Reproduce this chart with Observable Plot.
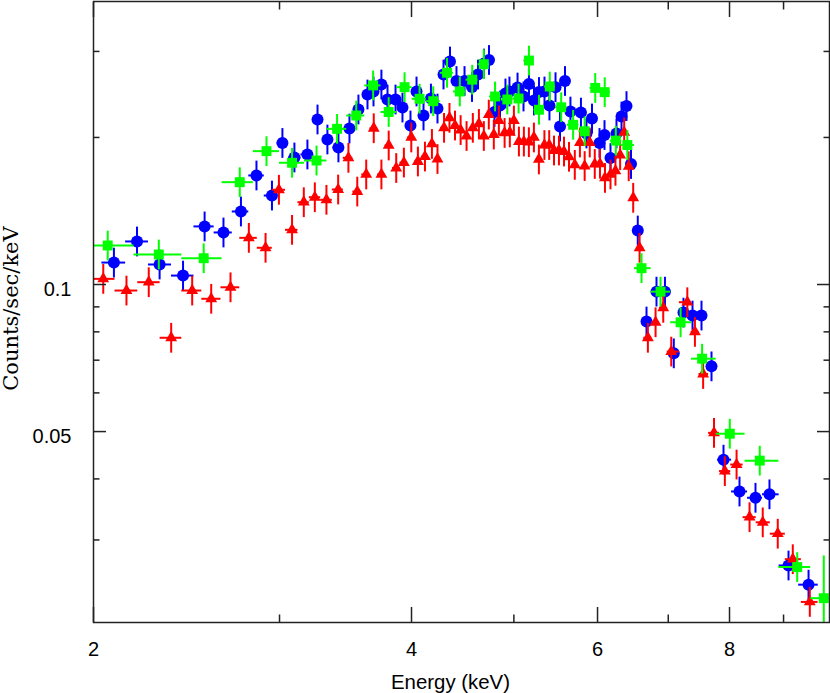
<!DOCTYPE html>
<html>
<head>
<meta charset="utf-8">
<script src="https://cdn.jsdelivr.net/npm/d3@7"></script>
<script src="https://cdn.jsdelivr.net/npm/@observablehq/plot@0.6"></script>
<style>
  body { margin: 0; background: #fff; }
  #chart { width: 830px; height: 693px; }
</style>
</head>
<body>
<div id="chart"></div>
<script>
// ---- Data (energy in keV, counts/sec/keV) ----
const blueE = [2.091, 2.199, 2.310, 2.431, 2.548, 2.655, 2.758, 2.853, 2.951, 3.019, 3.099, 3.188, 3.259, 3.330, 3.411, 3.494, 3.563, 3.634, 3.682, 3.746, 3.796, 3.863, 3.922, 3.991, 4.044, 4.106, 4.173, 4.233, 4.289, 4.350, 4.412, 4.490, 4.564, 4.624, 4.685, 4.736, 4.793, 4.851, 4.909, 4.952, 5.040, 5.106, 5.167, 5.224, 5.281, 5.345, 5.403, 5.475, 5.529, 5.589, 5.656, 5.787, 5.857, 5.928, 6.026, 6.092, 6.172, 6.253, 6.322, 6.391, 6.454, 6.550, 6.676, 6.823, 6.950, 7.085, 7.236, 7.380, 7.526, 7.692, 7.896, 8.176, 8.466, 8.728, 9.098, 9.504];
const blueC = [0.1109, 0.1225, 0.1099, 0.1043, 0.1315, 0.1278, 0.1411, 0.1672, 0.1521, 0.1949, 0.1820, 0.1846, 0.2177, 0.1981, 0.1908, 0.2086, 0.2282, 0.2449, 0.2484, 0.2567, 0.2392, 0.2392, 0.2303, 0.2116, 0.2484, 0.2218, 0.2403, 0.2292, 0.2691, 0.2861, 0.2610, 0.2610, 0.2537, 0.2691, 0.2834, 0.2882, 0.2255, 0.2325, 0.2461, 0.2484, 0.2531, 0.2426, 0.2573, 0.2381, 0.2478, 0.2484, 0.2325, 0.2535, 0.2106, 0.2610, 0.2260, 0.2249, 0.2038, 0.2187, 0.1949, 0.2023, 0.1815, 0.2038, 0.2208, 0.2319, 0.1765, 0.1290, 0.0840, 0.0967, 0.0967, 0.0723, 0.0876, 0.0864, 0.0864, 0.0680, 0.0438, 0.0377, 0.0366, 0.0372, 0.0266, 0.0243];

const greenE = [2.063, 2.306, 2.543, 2.751, 2.916, 3.083, 3.252, 3.401, 3.546, 3.679, 3.806, 3.940, 4.071, 4.194, 4.322, 4.444, 4.566, 4.683, 4.799, 4.929, 5.051, 5.167, 5.281, 5.407, 5.543, 5.689, 5.834, 5.970, 6.095, 6.244, 6.403, 6.604, 6.883, 7.191, 7.536, 8.005, 8.545, 9.272, 9.825];
const greenC = [0.1202, 0.1152, 0.1132, 0.1620, 0.1875, 0.1775, 0.1794, 0.2083, 0.2218, 0.2556, 0.2255, 0.2535, 0.2400, 0.2373, 0.2713, 0.2484, 0.2626, 0.2825, 0.2426, 0.2392, 0.2403, 0.2874, 0.2279, 0.2543, 0.2306, 0.2123, 0.2059, 0.2526, 0.2476, 0.1970, 0.1930, 0.1080, 0.0967, 0.0837, 0.0705, 0.0495, 0.0436, 0.0264, 0.0228];

const redE = [2.043, 2.149, 2.256, 2.369, 2.480, 2.585, 2.696, 2.806, 2.910, 2.996, 3.083, 3.163, 3.240, 3.323, 3.409, 3.486, 3.554, 3.624, 3.684, 3.746, 3.806, 3.869, 3.934, 3.998, 4.056, 4.119, 4.182, 4.233, 4.294, 4.345, 4.398, 4.452, 4.510, 4.572, 4.633, 4.683, 4.734, 4.786, 4.839, 4.900, 4.956, 5.000, 5.055, 5.110, 5.166, 5.223, 5.280, 5.344, 5.400, 5.457, 5.516, 5.577, 5.638, 5.710, 5.774, 5.834, 5.899, 5.964, 6.032, 6.098, 6.172, 6.239, 6.303, 6.359, 6.422, 6.485, 6.576, 6.696, 6.809, 6.924, 7.046, 7.297, 7.419, 7.553, 7.734, 7.919, 8.124, 8.357, 8.601, 8.887, 9.183, 9.530];
const redC = [0.1027, 0.0972, 0.1011, 0.0778, 0.0972, 0.0935, 0.0987, 0.1246, 0.1189, 0.1563, 0.1294, 0.1474, 0.1509, 0.1491, 0.1565, 0.1817, 0.1550, 0.1680, 0.2089, 0.1680, 0.1926, 0.1732, 0.1777, 0.2000, 0.1786, 0.1828, 0.1940, 0.1807, 0.2093, 0.2194, 0.2116, 0.2071, 0.2014, 0.2093, 0.2132, 0.2014, 0.2228, 0.2028, 0.2166, 0.2043, 0.2048, 0.2166, 0.1962, 0.1962, 0.1956, 0.2000, 0.1803, 0.1930, 0.1930, 0.1881, 0.1881, 0.1872, 0.1826, 0.1758, 0.1953, 0.1748, 0.1953, 0.1765, 0.1767, 0.1653, 0.1680, 0.1709, 0.1840, 0.2048, 0.1746, 0.1505, 0.1189, 0.0778, 0.0837, 0.0896, 0.0729, 0.0920, 0.0800, 0.0656, 0.0497, 0.0415, 0.0428, 0.0334, 0.0326, 0.0309, 0.0274, 0.0224];

// relative 1-sigma errors on the counts
const blueErr = 0.07;
const redErr = 0.07;
const greenErr = 0.07;
const greenErrLast = 0.22;

// axis ticks
const xMajor = [2, 4, 6, 8];
const xMinor = [3, 5, 7, 9];
const yMajor = [0.1, 0.05];
const yMinor = [0.3, 0.2, 0.09, 0.08, 0.07, 0.06, 0.04, 0.03];
const xLabel = "Energy (keV)";
const yLabel = "Counts/sec/keV";

// ---- Build tables (bins are contiguous: edges halfway between channels) ----
function series(E, C, errAt) {
  const n = Math.min(E.length, C.length);
  const out = [];
  for (let i = 0; i < n; i++) {
    const x = E[i];
    const lo = i > 0 ? (E[i - 1] + x) / 2 : x - (E[i + 1] - x) / 2;
    const hi = i < n - 1 ? (x + E[i + 1]) / 2 : x + (x - E[i - 1]) / 2;
    const e = errAt(i, n);
    out.push({x, y: C[i], xlo: lo, xhi: hi, ylo: C[i] * (1 - e), yhi: C[i] * (1 + e)});
  }
  return out;
}
const blue = series(blueE, blueC, () => blueErr);
const red = series(redE, redC, () => redErr);
const green = series(greenE, greenC, (i, n) => (i === n - 1 ? greenErrLast : greenErr));

const BLUE = "#0000ff", RED = "#ff0000", GREEN = "#00ff00";
const FRAME = "#222";

function dataset(d, color, dotOpts) {
  return [
    Plot.ruleY(d, {y: "y", x1: "xlo", x2: "xhi", stroke: color, strokeWidth: 2, clip: true}),
    Plot.ruleX(d, {x: "x", y1: "ylo", y2: "yhi", stroke: color, strokeWidth: 2, clip: true}),
    Plot.dot(d, {x: "x", y: "y", fill: color, stroke: "none", clip: true, ...dotOpts})
  ];
}

function tickMarks() {
  const common = {tickFormat: () => "", stroke: FRAME, strokeWidth: 1.5, label: null};
  return [
    Plot.axisY(yMajor, {...common, anchor: "left", tickSize: -13}),
    Plot.axisY(yMinor, {...common, anchor: "left", tickSize: -6.5}),
    Plot.axisY(yMajor, {...common, anchor: "right", tickSize: -13}),
    Plot.axisY(yMinor, {...common, anchor: "right", tickSize: -6.5}),
    Plot.axisX(xMajor, {...common, anchor: "bottom", tickSize: -15}),
    Plot.axisX(xMinor, {...common, anchor: "bottom", tickSize: -7.5}),
    Plot.axisX(xMajor, {...common, anchor: "top", tickSize: -15}),
    Plot.axisX(xMinor, {...common, anchor: "top", tickSize: -7.5})
  ];
}

const chart = Plot.plot({
  width: 830,
  height: 693,
  marginLeft: 93,
  marginRight: 1,
  marginTop: 1,
  marginBottom: 71,
  style: {fontFamily: "'Liberation Sans', Arial, sans-serif", fontSize: "20px", color: "#000", background: "#fff"},
  x: {type: "log", domain: [2, 9.948]},
  y: {type: "log", domain: [0.02033, 0.3796]},
  marks: [
    ...dataset(blue, BLUE, {r: 6}),
    ...dataset(red, RED, {symbol: "triangle", r: 4.4}),
    ...dataset(green, GREEN, {symbol: "square", r: 5.6}),
    ...tickMarks(),
    Plot.frame({stroke: FRAME, strokeWidth: 1.5}),
    Plot.axisY(yMajor, {anchor: "left", tickSize: 0, tickPadding: 22, dy: 5, fontSize: 20, tickFormat: d => String(d), label: null}),
    Plot.axisX(xMajor, {anchor: "bottom", tickSize: 0, tickPadding: 19, fontSize: 20, tickFormat: d => String(d), label: null}),
    Plot.text([xLabel], {frameAnchor: "bottom", text: d => d, textAnchor: "middle", lineAnchor: "top", dx: -11, dy: 52.5, fontSize: 20.4}),
    Plot.text([yLabel], {frameAnchor: "left", text: d => d, textAnchor: "middle", rotate: -90, dx: -82.5, dy: -3.5, fontSize: 21, fontFamily: "'DejaVu Serif', serif", ariaLabel: "ylabel"})
  ]
});
document.getElementById("chart").appendChild(chart);
d3.select(chart).selectAll('g[aria-label="ylabel"] text').style("letter-spacing", "2px");
</script>
</body>
</html>
